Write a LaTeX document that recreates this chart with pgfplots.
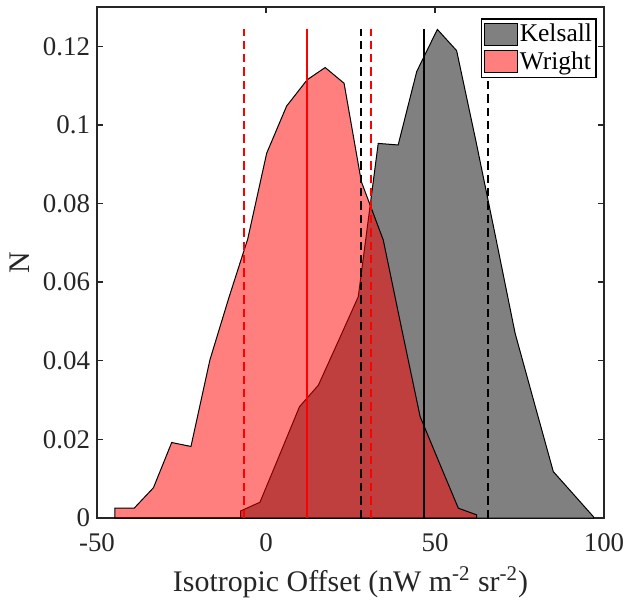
\documentclass[border=0pt]{standalone}
\usepackage{pgfplots}
\pgfplotsset{compat=1.18}
\usepackage{fontspec}
\setmainfont{Liberation Serif}
\definecolor{axgray}{RGB}{38,38,38}
\definecolor{kgray}{RGB}{128,128,128}
\begin{document}
\begin{tikzpicture}
\begin{axis}[
  scale only axis,
  width=253.5bp, height=255.5bp,
  xmin=-50, xmax=100, ymin=0, ymax=0.13,
  xtick={-50,0,50,100},
  ytick={0,0.02,0.04,0.06,0.08,0.1,0.12},
  scaled y ticks=false,
  yticklabel style={/pgf/number format/fixed,/pgf/number format/precision=2},
  xticklabel style={yshift=-4.5bp},
  /pgf/number format/assume math mode=true,
  tick align=inside,
  major tick length=3bp,
  axis line style={axgray, line width=0.7bp},
  every tick/.style={axgray, line width=0.7bp},
  tick label style={font=\fontsize{13.5}{16}\selectfont, text=axgray},
  label style={font=\fontsize{15}{18}\selectfont, text=axgray},
  xlabel style={yshift=-0.5bp},
  xlabel={Isotropic Offset (nW m\textsuperscript{-2} sr\textsuperscript{-2})},
  ylabel={N},
  legend cell align=left,
  legend style={at={(0.9856,0.978)}, anchor=north east, draw=black, line width=0.7bp,
    font=\fontsize{12.8}{15}\selectfont, inner xsep=1bp, inner ysep=1.5bp, row sep=1.5bp,
    nodes={inner sep=1bp}},
  legend image code/.code={\draw[#1, line width=0.5bp] (0bp,-5.5bp) rectangle (16.5bp,5.5bp);},
]
\addplot[draw=black, line width=0.5bp, fill=kgray] coordinates {
(-7.5,0) (-7.5,0.0018) (-1.8,0.004) (4.0,0.016) (9.9,0.0283) (15.5,0.0338)
(21.4,0.045) (27.3,0.0563) (33.2,0.0953) (39.1,0.0949) (44.6,0.1136)
(50.7,0.1243) (56.4,0.1189) (62.2,0.0955) (68.0,0.0712) (73.7,0.047)
(79.4,0.0292) (85.0,0.0118) (90.9,0.0061) (96.9,0.0003) (96.9,0) (-7.5,0)
};
\addlegendentry{Kelsall}
\addplot[draw=black, line width=0.5bp, fill=red, fill opacity=0.5] coordinates {
(-44.7,0) (-44.7,0.0025) (-39.0,0.0025) (-33.3,0.0077) (-27.9,0.0192) (-22.2,0.0182)
(-16.6,0.0402) (-11.0,0.056) (-5.4,0.071) (0.2,0.0928) (6.1,0.1048) (12.2,0.1115)
(17.5,0.1146) (23.1,0.1106) (28.2,0.0856) (34.7,0.0707) (40.1,0.0483) (45.6,0.0258)
(51.2,0.0142) (56.9,0.0025) (62.3,0.0008) (62.3,0) (-44.7,0)
};
\addlegendentry{Wright}
\addplot[forget plot, black, line width=1bp, dash pattern=on 4.2bp off 2.5bp] coordinates {(28.0,0) (28.0,0.1243)};
\addplot[forget plot, black, line width=1bp] coordinates {(46.8,0) (46.8,0.1243)};
\addplot[forget plot, black, line width=1bp, dash pattern=on 4.2bp off 2.5bp] coordinates {(65.8,0) (65.8,0.1243)};
\addplot[forget plot, red, line width=1bp, dash pattern=on 4.2bp off 2.5bp] coordinates {(-6.5,0) (-6.5,0.1243)};
\addplot[forget plot, red, line width=1bp] coordinates {(12.2,0) (12.2,0.1243)};
\addplot[forget plot, red, line width=1bp, dash pattern=on 4.2bp off 2.5bp] coordinates {(31.1,0) (31.1,0.1243)};
\coordinate (bl) at (rel axis cs:0,0);
\coordinate (tr) at (rel axis cs:1,1);
\end{axis}
\pgfresetboundingbox
\path ([shift={(-48.5bp,-41bp)}]bl) rectangle ([shift={(18.5bp,3.5bp)}]tr);
\end{tikzpicture}
\end{document}
